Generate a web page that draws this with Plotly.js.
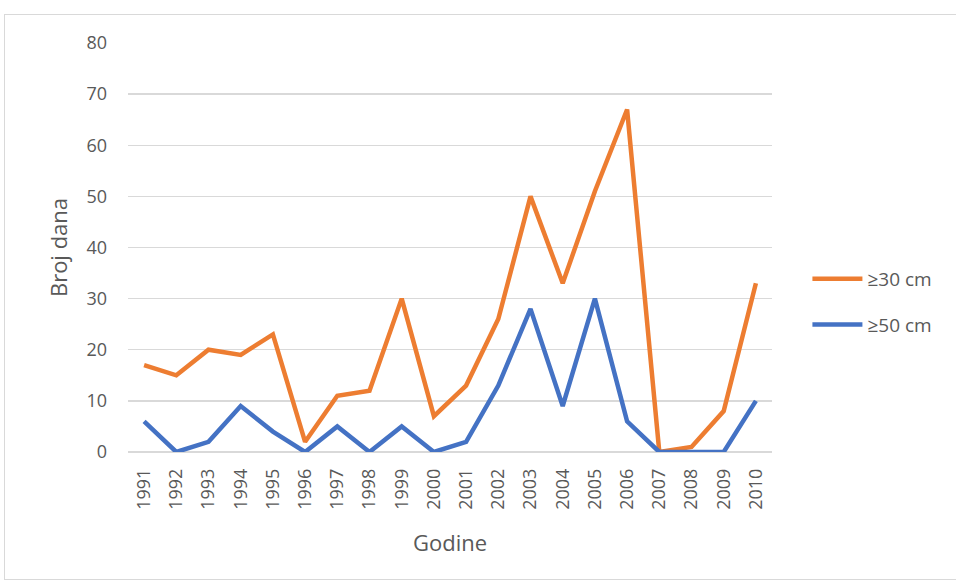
<!DOCTYPE html>
<html><head><meta charset="utf-8">
<script src="https://cdn.plot.ly/plotly-3.0.1.min.js"></script>
<style>html,body{margin:0;padding:0;background:#fff}#frame{position:absolute;left:4px;top:14px;width:960px;height:564px;border:1px solid #d9d9d9;pointer-events:none}</style>
</head><body>
<div id="chart" style="width:956px;height:581px;"></div>
<div id="frame"></div>
<script>
const years = ["1991","1992","1993","1994","1995","1996","1997","1998","1999","2000","2001","2002","2003","2004","2005","2006","2007","2008","2009","2010"];
const series30 = [17,15,20,19,23,2,11,12,30,7,13,26,50,33,51,67,0,1,8,33];
const series50 = [6,0,2,9,4,0,5,0,5,0,2,13,28,9,30,6,0,0,0,10];
const name30 = "≥30 cm";
const name50 = "≥50 cm";
const font = "'Open Sans', sans-serif";
const traces = [
  {x: years, y: series30, name: name30, type: "scatter", mode: "lines", legendgroup: "a",
   line: {color: "#ED7D31", width: 4.5}},
  {x: years, y: series50, name: name50, type: "scatter", mode: "lines", legendgroup: "b",
   line: {color: "#4472C4", width: 4.5}}
];
const layout = {
  width: 956, height: 581,
  margin: {l: 128, r: 184, t: 43, b: 129},
  paper_bgcolor: "#fff", plot_bgcolor: "#fff",
  font: {family: font, size: 18, color: "#595959"},
  showlegend: true,
  legend: {x: 1.055, y: 0.367, yanchor: "middle", xanchor: "left", tracegroupgap: 18, itemwidth: 50,
           font: {family: font, size: 19, color: "#595959"}},
  xaxis: {type: "category", range: [-0.5, 19.5], showgrid: false, zeroline: false, showline: false,
          tickangle: -90, ticks: "", ticklabelstandoff: 12,
          tickfont: {family: font, size: 18, color: "#595959"},
          title: {text: "Godine", standoff: 26, font: {family: font, size: 22, color: "#595959"}}},
  yaxis: {range: [0, 80], dtick: 10, showgrid: true, gridcolor: "#d9d9d9", gridwidth: 1.3,
          zeroline: true, zerolinecolor: "#d9d9d9", zerolinewidth: 1.3, showline: false, ticks: "",
          ticklabelstandoff: 20,
          tickfont: {family: font, size: 18, color: "#595959"},
          title: {text: "Broj dana", standoff: 12, font: {family: font, size: 22, color: "#595959"}}}
};
Plotly.newPlot("chart", traces, layout, {displayModeBar: false, staticPlot: true});
</script>
</body></html>
